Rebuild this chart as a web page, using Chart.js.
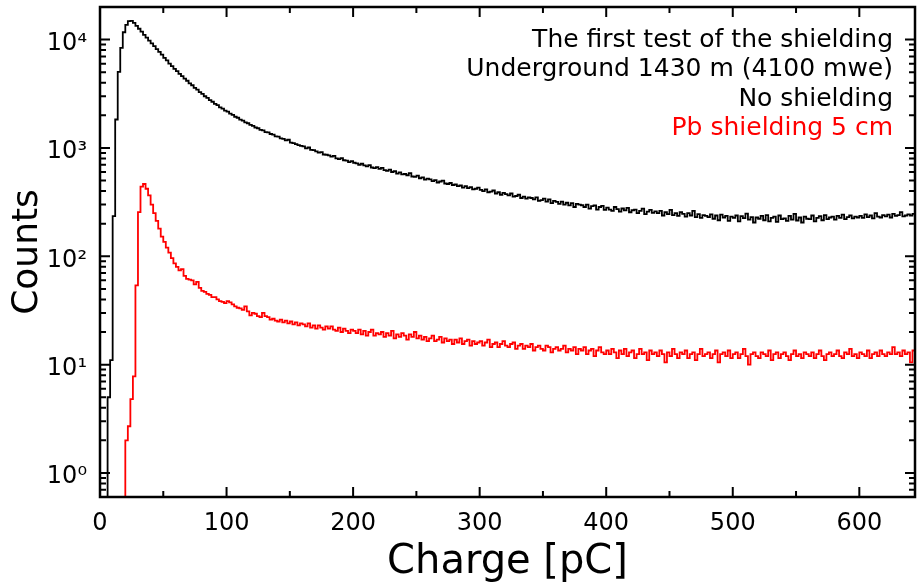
<!DOCTYPE html>
<html>
<head>
<meta charset="utf-8">
<script src="https://cdn.jsdelivr.net/npm/chart.js@4.4.1/dist/chart.umd.min.js"></script>
<style>
  html, body { margin: 0; padding: 0; background: #fff; }
  canvas { display: block; }
</style>
</head>
<body>
<canvas id="spectrum" width="917" height="587"></canvas>
<script>
// histogram bins, 2 pC wide, first bin starts at 0 pC
const binStart = 0;
const binWidth = 2;

// counts per bin, no shielding (black)
const noShielding = [
  0, 0, 0, 5, 11, 235, 1830, 5040, 8400, 11700,
  13700, 14800, 14900, 14300, 13400, 12600, 11850, 11050, 10450, 9800,
  9250, 8720, 8180, 7720, 7260, 6790, 6420, 6010, 5690, 5360,
  5110, 4830, 4610, 4370, 4170, 3950, 3790, 3590, 3450, 3280,
  3160, 3000, 2900, 2760, 2670, 2550, 2480, 2370, 2310, 2210,
  2160, 2070, 2020, 1940, 1900, 1825, 1790, 1720, 1690, 1630,
  1600, 1545, 1520, 1470, 1450, 1400, 1390, 1345, 1330, 1280,
  1270, 1225, 1215, 1175, 1190, 1120, 1110, 1085, 1060, 1045,
  1035, 990, 1010, 960, 955, 930, 905, 915, 870, 865,
  855, 830, 845, 800, 790, 805, 770, 765, 740, 755,
  730, 720, 700, 715, 690, 675, 695, 660, 650, 665,
  640, 655, 625, 615, 630, 600, 610, 580, 595, 570,
  575, 560, 585, 545, 540, 555, 525, 535, 510, 520,
  512, 495, 505, 480, 490, 500, 470, 465, 475, 455,
  460, 445, 450, 430, 445, 425, 435, 415, 420, 430,
  410, 400, 415, 390, 395, 405, 380, 390, 370, 385,
  375, 365, 380, 355, 360, 370, 345, 355, 340, 350,
  345, 335, 350, 325, 330, 340, 320, 335, 310, 325,
  318, 305, 320, 300, 312, 295, 310, 285, 305, 300,
  296, 285, 300, 275, 290, 295, 270, 285, 292, 268,
  281, 270, 262, 285, 272, 258, 276, 265, 280, 255,
  266, 270, 250, 262, 275, 245, 258, 268, 252, 260,
  250, 262, 238, 255, 245, 268, 240, 250, 236, 255,
  246, 232, 250, 238, 262, 230, 245, 226, 240, 236,
  230, 244, 222, 238, 215, 242, 228, 236, 212, 232,
  226, 238, 210, 235, 225, 248, 218, 230, 205, 228,
  222, 236, 215, 240, 210, 226, 232, 208, 238, 220,
  224, 212, 236, 218, 246, 214, 228, 205, 232, 222,
  220, 238, 210, 226, 235, 215, 240, 220, 228, 232,
  218, 236, 226, 242, 220, 230, 238, 224, 232, 228,
  236, 226, 244, 230, 238, 224, 250, 232, 228, 240,
  234, 242, 228, 246, 236, 240, 256, 234, 238, 244,
  238, 246
];

// counts per bin, Pb shielding 5 cm (red)
const pbShielding = [
  0, 0, 0, 0, 0, 0, 0, 0, 0, 0,
  2, 2.7, 4.8, 7.8, 54, 256, 440, 465, 420, 365,
  300, 250, 212, 180, 152, 136, 120, 108, 96, 86,
  80, 74, 76, 66, 62, 61, 60, 55, 58, 51,
  48, 47, 45, 44, 42, 42, 40, 38.5, 38, 37,
  38.5, 37.5, 36, 34.5, 33.5, 33, 32, 34.5, 31, 28.5,
  30, 29.5, 28, 27.5, 30, 28, 27.5, 26, 26.5, 25.5,
  25, 26, 24.5, 25.5, 24, 25, 23.5, 24.5, 23, 24,
  23.5, 22.5, 24, 22, 23, 21.5, 23, 22, 21, 22.5,
  21.5, 22.5, 21, 20.5, 22, 20, 21.5, 20.5, 19.5, 21,
  20.5, 19.5, 21, 19, 20.5, 18.5, 20, 21, 18.5, 19.5,
  19, 20, 18, 19.5, 18.5, 20.5, 17.5, 19, 18, 19.5,
  18.5, 17, 19, 18, 20, 17.5, 18.5, 17, 18, 16.5,
  17.5, 18.5, 16.5, 17, 18, 16, 17.5, 16.5, 17, 15.5,
  17, 16, 17.5, 15.5, 16.5, 17, 15, 16.5, 15.5, 16,
  16.5, 15, 16, 17, 14.5, 15.5, 16, 14.5, 15.5, 16.5,
  15, 14.5, 15.5, 16, 14, 15, 15.5, 14, 15, 14.5,
  15.5, 13.5, 14.5, 15, 14, 13.5, 15, 14.5, 13, 14,
  14.5, 13.5, 14, 15, 13, 14, 13.5, 14.5, 12.5, 14,
  13.5, 14.5, 12.5, 13.5, 14, 12, 13.5, 14.5, 13, 12.5,
  13.5, 12.5, 14, 13, 11.5, 13.5, 12.5, 14, 12, 13,
  13.5, 11.5, 12.5, 14, 12.5, 13, 11, 13.5, 12.5, 13,
  12, 13.5, 12.5, 10.5, 13, 12, 14, 12.5, 11.5, 13,
  12.5, 13.5, 11.5, 12.5, 13, 11, 12.5, 14, 12, 12.5,
  13, 11.5, 12.5, 13.5, 10.5, 12.5, 13, 12, 13.5, 11.5,
  12.5, 13, 11.5, 12.5, 14, 12, 10, 12.5, 13, 12,
  11.5, 13, 12.5, 12, 13.5, 11, 12.5, 13, 11.5, 12.5,
  13, 12, 11, 12.5, 13.5, 12, 12.5, 11.5, 13, 12.5,
  12, 13, 11.5, 12.5, 13.5, 12, 11, 12.5, 13, 12,
  12.5, 13.5, 12, 11.5, 13, 12.5, 14, 12, 12.5, 11.5,
  13, 12.5, 12, 13.5, 11.5, 12.5, 13, 12, 13.5, 12.5,
  12, 13, 12.5, 14.5, 12.5, 13, 12, 13.5, 12.5, 13,
  10.5, 13.5
];

const xTicks = [0, 100, 200, 300, 400, 500, 600];
const xMinorTicks = [50, 150, 250, 350, 450, 550];
const yTicks = [1, 10, 100, 1000, 10000];
const yTickLabels = ['10\u2070', '10\u00b9', '10\u00b2', '10\u00b3', '10\u2074'];

const noteLines = [
  'The first test of the shielding',
  'Underground 1430 m (4100 mwe)',
  'No shielding',
  'Pb shielding 5 cm'
];
const noteColors = ['#000000', '#000000', '#000000', '#ff0000'];

const FONT = '"DejaVu Sans", "Liberation Sans", sans-serif';

// minor log ticks 2..9 of every decade inside the axis range
const yMinorTicks = [];
for (let d = 0.1; d <= 10000; d *= 10) {
  for (let k = 2; k <= 9; k++) {
    const v = Math.round(k * d * 100) / 100;
    if (v >= 0.6 && v <= 20000) yMinorTicks.push(v);
  }
}
yMinorTicks.push(20000);

// left bin edges + closing point; empty bins are sent below the axis
function toSteps(counts) {
  const pts = counts.map((c, i) => ({ x: binStart + i * binWidth, y: c > 0 ? c : 0.1 }));
  pts.push({ x: binStart + counts.length * binWidth, y: pts[pts.length - 1].y });
  return pts;
}

const frameAndTicks = {
  id: 'frameAndTicks',
  afterDatasetsDraw(chart) {
    const { ctx, chartArea: a, scales: { x, y } } = chart;
    ctx.save();
    ctx.strokeStyle = '#000';
    ctx.lineWidth = 2;
    ctx.beginPath();
    [[xTicks, 10], [xMinorTicks, 6]].forEach(([vals, len]) => {
      vals.forEach(v => {
        const px = x.getPixelForValue(v);
        ctx.moveTo(px, a.bottom); ctx.lineTo(px, a.bottom - len);
        ctx.moveTo(px, a.top); ctx.lineTo(px, a.top + len);
      });
    });
    [[yTicks, 10], [yMinorTicks, 6]].forEach(([vals, len]) => {
      vals.forEach(v => {
        const py = y.getPixelForValue(v);
        ctx.moveTo(a.left, py); ctx.lineTo(a.left + len, py);
        ctx.moveTo(a.right, py); ctx.lineTo(a.right - len, py);
      });
    });
    ctx.stroke();

    ctx.lineWidth = 2.5;
    ctx.strokeRect(a.left, a.top, a.width, a.height);

    ctx.font = '25px ' + FONT;
    ctx.textAlign = 'right';
    ctx.textBaseline = 'alphabetic';
    noteLines.forEach((t, i) => {
      ctx.fillStyle = noteColors[i];
      ctx.fillText(t, a.right - 22, a.top + 39.5 + i * 29.5);
    });
    ctx.restore();
  }
};

new Chart(document.getElementById('spectrum'), {
  type: 'line',
  data: {
    datasets: [
      {
        label: 'No shielding',
        data: toSteps(noShielding),
        borderColor: '#000000',
        borderWidth: 1.8,
        stepped: true,
        pointRadius: 0,
        fill: false
      },
      {
        label: 'Pb shielding 5 cm',
        data: toSteps(pbShielding),
        borderColor: '#ff0000',
        borderWidth: 1.8,
        stepped: true,
        pointRadius: 0,
        fill: false
      }
    ]
  },
  options: {
    responsive: false,
    animation: false,
    layout: { padding: { top: 7, right: 2, left: 0, bottom: 0 } },
    plugins: {
      legend: { display: false },
      tooltip: { enabled: false }
    },
    scales: {
      x: {
        type: 'linear',
        min: 0,
        max: 644,
        afterBuildTicks: s => { s.ticks = xTicks.map(v => ({ value: v })); },
        afterFit: s => { s.height = 90; s.paddingLeft = 0; s.paddingRight = 0; },
        grid: { display: false, drawTicks: false },
        border: { display: false },
        ticks: {
          autoSkip: false,
          maxRotation: 0,
          padding: 12,
          color: '#000',
          font: { family: FONT, size: 24 },
          callback: v => String(v)
        },
        title: {
          display: true,
          text: 'Charge [pC]',
          color: '#000',
          font: { family: FONT, size: 40 },
          padding: { top: 0, bottom: 0 }
        }
      },
      y: {
        type: 'logarithmic',
        min: 0.6,
        max: 20000,
        afterBuildTicks: s => { s.ticks = yTicks.map(v => ({ value: v })); },
        afterFit: s => { s.width = 100; s.paddingTop = 0; s.paddingBottom = 0; },
        grid: { display: false, drawTicks: false },
        border: { display: false },
        ticks: {
          autoSkip: false,
          padding: 13,
          labelOffset: 4,
          color: '#000',
          font: { family: FONT, size: 24 },
          callback: (v, i) => yTickLabels[i]
        },
        title: {
          display: true,
          text: 'Counts',
          color: '#000',
          font: { family: FONT, size: 36 },
          padding: { top: 6, bottom: 0 }
        }
      }
    }
  },
  plugins: [frameAndTicks]
});
</script>
</body>
</html>
